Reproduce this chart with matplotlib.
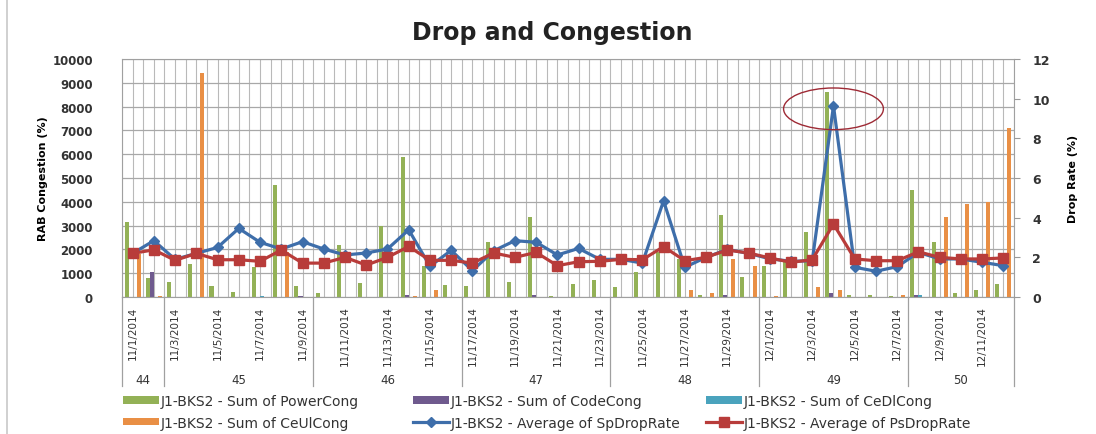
import numpy as np
import pandas as pd
import matplotlib
matplotlib.use("Agg")
import matplotlib.pyplot as plt
from matplotlib.patches import Ellipse
from matplotlib.lines import Line2D
from matplotlib.transforms import blended_transform_factory

# categories: one per day, 11/1/2014 .. 12/12/2014
days = pd.date_range("2014-11-01", "2014-12-12", freq="D")
dates = [f"{d.month}/{d.day}/{d.year}" for d in days]
weeks = [int(d.isocalendar()[1]) for d in days]

# bar series (left axis)
power_cong = [3150, 800, 650, 1400, 450, 200, 1250, 4700, 480, 180,
              2200, 600, 3000, 5900, 1300, 500, 450, 2300, 650, 3350,
              30, 550, 700, 400, 1060, 1900, 1600, 100, 3450, 850,
              1300, 1500, 2750, 8600, 80, 100, 50, 4500, 2300, 150,
              300, 550]
code_cong = [0, 1050, 0, 0, 0, 0, 0, 0, 50, 0,
             0, 0, 0, 80, 0, 0, 0, 0, 0, 100,
             0, 0, 0, 0, 0, 0, 0, 0, 100, 0,
             0, 0, 0, 150, 0, 0, 0, 100, 0, 0,
             0, 0]
cedl_cong = [0, 0, 0, 0, 0, 0, 50, 0, 0, 0,
             0, 0, 0, 0, 0, 0, 0, 0, 0, 0,
             0, 0, 0, 0, 0, 0, 0, 0, 0, 0,
             0, 0, 0, 0, 0, 0, 0, 80, 0, 0,
             0, 0]
ceul_cong = [1800, 60, 0, 9400, 0, 0, 0, 1900, 0, 0,
             0, 0, 0, 60, 300, 0, 0, 0, 0, 0,
             0, 0, 0, 0, 0, 0, 300, 170, 1600, 1300,
             50, 0, 400, 300, 0, 0, 100, 0, 3350, 3900,
             4000, 7100]

# line series (right axis)
sp_drop = [2.20, 2.84, 1.90, 2.20, 2.50, 3.46, 2.76, 2.42, 2.79, 2.42,
           2.12, 2.22, 2.42, 3.39, 1.55, 2.35, 1.33, 2.33, 2.84, 2.76,
           2.12, 2.45, 1.90, 1.90, 1.71, 4.85, 1.50, 2.00, 2.40, 2.20,
           1.93, 1.80, 1.83, 9.64, 1.50, 1.30, 1.53, 2.25, 1.92, 1.92,
           1.75, 1.58]
ps_drop = [2.20, 2.38, 1.85, 2.20, 1.88, 1.88, 1.80, 2.37, 1.71, 1.71,
           2.00, 1.61, 2.00, 2.55, 1.85, 1.85, 1.71, 2.22, 2.00, 2.25,
           1.58, 1.78, 1.80, 1.90, 1.88, 2.54, 1.83, 2.00, 2.37, 2.22,
           1.97, 1.75, 1.88, 3.68, 1.92, 1.83, 1.83, 2.28, 2.00, 1.92,
           1.92, 1.97]

prefix = "J1-BKS2 - "
bar_series = [("Sum of PowerCong", power_cong, "#93b156"),
              ("Sum of CodeCong", code_cong, "#6f5a8e"),
              ("Sum of CeDlCong", cedl_cong, "#4aa3bd"),
              ("Sum of CeUlCong", ceul_cong, "#e98f45")]

x = np.arange(len(dates))
n = len(dates)
bw = 0.19

fig = plt.figure(figsize=(10.96, 4.35), dpi=100)
ax = fig.add_axes([0.1113, 0.3149, 0.8139, 0.5471])
ax2 = ax.twinx()

# faint outer chart border on the left
fig.add_artist(Line2D([7 / 1096, 7 / 1096], [0, 1], color="#c8c8c8", lw=1.2))

grid_c = "#b9b9b9"
ax.set_axisbelow(True)
for v in np.arange(-0.5, n, 0.5):
    ax.axvline(v, color=grid_c, lw=0.8, zorder=0)
ax.yaxis.grid(True, color="#a8a8a8", lw=0.9)

handles = {}
for k, (name, vals, col) in enumerate(bar_series):
    off = (k - 1.5) * bw
    b = ax.bar(x + off, vals, width=bw, color=col, zorder=2)
    handles[name] = b

l1, = ax2.plot(x, sp_drop, color="#3e6eaa", lw=2.3, marker="D", ms=5,
               zorder=3)
l2, = ax2.plot(x, ps_drop, color="#b83c3a", lw=2.3, marker="s", ms=6.5,
               zorder=4)

ax.set_xlim(-0.5, n - 0.5)
ax.set_ylim(0, 10000)
ax2.set_ylim(0, 12)

ax.set_yticks(range(0, 10001, 1000))
ax.tick_params(axis="y", length=0, pad=21, labelsize=8.5, labelcolor="#333333")
for t in ax.get_yticklabels():
    t.set_fontweight("bold")
ax2.set_yticks(range(0, 13, 2))
ax2.tick_params(axis="y", length=4, direction="out", color="#999999", pad=9,
                labelsize=9, labelcolor="#333333")
for t in ax2.get_yticklabels():
    t.set_fontweight("bold")

ax.set_xticks(x[::2])
ax.set_xticklabels(dates[::2], rotation=90, fontsize=7.5, color="#333333")
ax.tick_params(axis="x", length=0, pad=6)

for sp in ax.spines.values():
    sp.set_color("#a0a0a0")
    sp.set_linewidth(0.8)
for sp in ax2.spines.values():
    sp.set_visible(False)

ax.set_ylabel("RAB Congestion (%)", fontsize=8, fontweight="bold")
ax.yaxis.set_label_coords(-0.083, 0.5)
ax2.set_ylabel("Drop Rate (%)", fontsize=8, fontweight="bold", rotation=90)
ax2.yaxis.set_label_coords(1.061, 0.5)

# week row under the dates
trans = blended_transform_factory(ax.transData, ax.transAxes)
wk = np.array(weeks)
bounds = [-0.5] + list(np.where(np.diff(wk) != 0)[0] + 0.5) + [n - 0.5]
for b in bounds:
    ax.plot([b, b], [0, -0.375], transform=trans, color="#a0a0a0", lw=0.9,
            clip_on=False)
for i in range(len(bounds) - 1):
    ax.text((bounds[i] + bounds[i + 1]) / 2, -0.345, str(wk[int(bounds[i] + 0.5)]),
            transform=trans, ha="center", va="center", fontsize=8.5,
            color="#333333")

# highlight of the SpDropRate peak
pk = int(np.argmax(sp_drop))
ax2.add_patch(Ellipse((pk, sp_drop[pk] - 0.15), width=4.7, height=2.1,
                      fill=False, edgecolor="#9e2a35", lw=1.0, zorder=5))

fig.text(0.504, 1 - 33 / 435, "Drop and Congestion", ha="center", va="center",
         fontsize=17, fontweight="bold", color="#222222")

# legend in three fixed columns
cols = [[(handles["Sum of PowerCong"], "Sum of PowerCong"),
         (handles["Sum of CeUlCong"], "Sum of CeUlCong")],
        [(handles["Sum of CodeCong"], "Sum of CodeCong"),
         (l1, "Average of SpDropRate")],
        [(handles["Sum of CeDlCong"], "Sum of CeDlCong"),
         (l2, "Average of PsDropRate")]]
for cx, entries in zip([0.112, 0.377, 0.644], cols):
    fig.legend([e[0] for e in entries], [prefix + e[1] for e in entries],
               loc="upper left", bbox_to_anchor=(cx, 1 - 395 / 435),
               frameon=False, fontsize=10, handlelength=2.6,
               handleheight=0.45, handletextpad=0.1, labelspacing=0.55,
               borderpad=0, borderaxespad=0, numpoints=1,
               labelcolor="#333333")

fig.savefig("out.png", dpi=100)
